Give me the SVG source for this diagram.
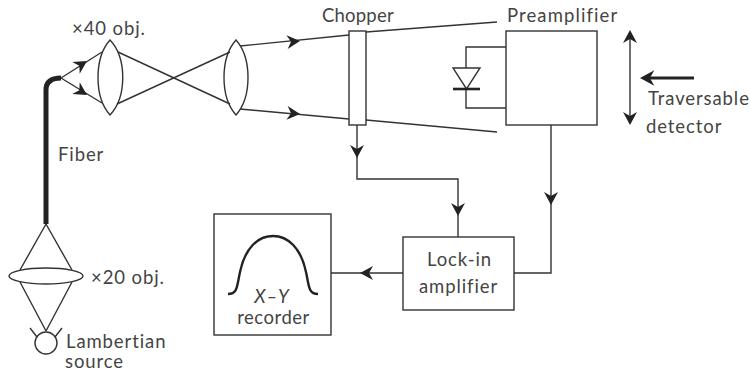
<svg xmlns="http://www.w3.org/2000/svg" width="750" height="372" viewBox="0 0 750 372">
<style>
.l{fill:none;stroke:#333;stroke-width:1.4}
.w{fill:#fff;stroke:#333;stroke-width:1.4}
.a{fill:#222;stroke:none}
text{font-family:"Lato","Noto Sans",sans-serif;font-size:18.5px;fill:#444;letter-spacing:.9px}
</style>
<defs>
<path id="h" d="M0 0L-13 -7L-9 0L-13 7Z"/>
</defs>
<g id="connectors">
<path class="l" d="M61 78L102 52M61 78L102 103"/>
<path class="l" d="M118 52L230 104M117 104L230 52"/>
<path class="l" d="M240 46L349 35M366 32L497 22M240 109L349 119M366 120L497 132"/>
<path class="l" d="M357 125V179H458V237M551 125V273H514M403 273H331"/>
<path class="l" d="M46 224L20 270M46 224L72 270M20 282L46 331M72 282L46 331"/>
<path class="l" d="M506 47H466V108H506"/>
<path class="l" d="M630 36V120"/>
<path d="M46 224V90Q46 78 61 78" fill="none" stroke="#222" stroke-width="5"/>
<path d="M694 78H645" fill="none" stroke="#222" stroke-width="3"/>
<use href="#h" class="a" transform="translate(87 61) rotate(-32)"/>
<use href="#h" class="a" transform="translate(87 95) rotate(32)"/>
<use href="#h" class="a" transform="translate(300 41) rotate(-5)"/>
<use href="#h" class="a" transform="translate(300 114) rotate(5)"/>
<use href="#h" class="a" transform="translate(357 158) rotate(90)"/>
<use href="#h" class="a" transform="translate(458 216) rotate(90)"/>
<use href="#h" class="a" transform="translate(551 205) rotate(90)"/>
<use href="#h" class="a" transform="translate(360 273) rotate(180)"/>
<use href="#h" class="a" transform="translate(630 30) rotate(-90)"/>
<use href="#h" class="a" transform="translate(630 125) rotate(90)"/>
<use href="#h" class="a" transform="translate(640 78) rotate(180) scale(1.1)"/>
</g>
<g id="lens-40x">
<path class="l" d="M110 40C94 58 94 97 110 115C127 97 127 58 110 40Z"/>
<text x="72" y="35">×40 obj.</text>
</g>
<g id="lens-collimator">
<path class="l" d="M236 40C220 58 220 97 236 115C252 97 252 58 236 40Z"/>
</g>
<g id="fiber"><text x="58" y="161">Fiber</text></g>
<g id="lens-20x">
<ellipse class="l" cx="46" cy="276" rx="37" ry="8"/>
<text x="91" y="284">×20 obj.</text>
</g>
<g id="source">
<circle class="l" cx="46" cy="343" r="11"/>
<path class="l" d="M30 328L37 337M62 328L55 337"/>
<text x="66" y="348">Lambertian</text>
<text x="65" y="368">source</text>
</g>
<g id="chopper">
<rect class="w" x="349" y="31" width="17" height="94"/>
<text x="322" y="22" style="letter-spacing:.2px">Chopper</text>
</g>
<g id="preamplifier">
<rect class="w" x="506" y="31" width="91" height="94"/>
<text x="507" y="22" style="letter-spacing:1.1px">Preamplifier</text>
</g>
<g id="diode">
<path class="w" d="M453 68H480L466.500 89Z"/>
<path d="M453 89H480" fill="none" stroke="#222" stroke-width="2.600"/>
</g>
<g id="detector-label">
<text x="648" y="105">Traversable</text>
<text x="646" y="133">detector</text>
</g>
<g id="lock-in">
<rect class="w" x="403" y="237" width="111" height="73"/>
<text x="459.500" y="266" text-anchor="middle">Lock-in</text>
<text x="458.500" y="293" text-anchor="middle">amplifier</text>
</g>
<g id="recorder">
<rect class="w" x="214" y="214" width="117" height="121"/>
<path d="M228 294C238 294 237 285 240 272C245 248 258 236 273 236C288 236 301 248 306 272C309 285 308 294 318 294" fill="none" stroke="#222" stroke-width="2.400"/>
<text x="272" y="303" text-anchor="middle" font-style="italic">X–Y</text>
<text x="273.500" y="324" text-anchor="middle" style="letter-spacing:.5px">recorder</text>
</g>
</svg>
